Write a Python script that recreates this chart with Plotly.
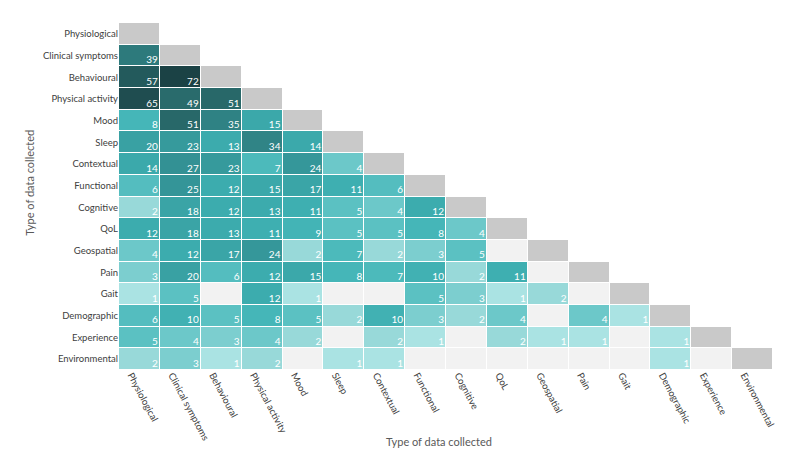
import plotly.graph_objects as go

categories = ["Physiological", "Clinical symptoms", "Behavioural", "Physical activity",
              "Mood", "Sleep", "Contextual", "Functional", "Cognitive", "QoL",
              "Geospatial", "Pain", "Gait", "Demographic", "Experience", "Environmental"]

# lower triangle, one list per row (0 = no studies)
physiological = []
clinical = [39]
behavioural = [57, 72]
physical = [65, 49, 51]
mood = [8, 51, 35, 15]
sleep = [20, 23, 13, 34, 14]
contextual = [14, 27, 23, 7, 24, 4]
functional = [6, 25, 12, 15, 17, 11, 6]
cognitive = [2, 18, 12, 13, 11, 5, 4, 12]
qol = [12, 18, 13, 11, 9, 5, 5, 8, 4]
geospatial = [4, 12, 17, 24, 2, 7, 2, 3, 5, 0]
pain = [3, 20, 6, 12, 15, 8, 7, 10, 2, 11, 0]
gait = [1, 5, 0, 12, 1, 0, 0, 5, 3, 1, 2, 0]
demographic = [6, 10, 5, 8, 5, 2, 10, 3, 2, 4, 0, 4, 1]
experience = [5, 4, 3, 4, 2, 0, 2, 1, 0, 2, 1, 1, 0, 1]
environmental = [2, 3, 1, 2, 0, 1, 1, 0, 0, 0, 0, 0, 0, 1, 0]

rows = [physiological, clinical, behavioural, physical, mood, sleep, contextual,
        functional, cognitive, qol, geospatial, pain, gait, demographic,
        experience, environmental]

n = len(categories)
idx = list(range(n))

z_val, z_empty, z_diag = [], [], []
tx, ty, tt = [], [], []
for i, r in enumerate(rows):
    zv, ze, zd = [], [], []
    for j in range(n):
        v = r[j] if j < len(r) else None
        if j < i and v:
            zv.append(v); ze.append(None); zd.append(None)
            tx.append(j + 0.45); ty.append(i + 0.47); tt.append(str(v))
        elif j < i:
            zv.append(None); ze.append(1); zd.append(None)
        elif j == i:
            zv.append(None); ze.append(None); zd.append(1)
        else:
            zv.append(None); ze.append(None); zd.append(None)
    z_val.append(zv); z_empty.append(ze); z_diag.append(zd)

stops = [(1, "#aae3e3"), (2, "#98d9d9"), (3, "#7ccecf"), (5, "#5bc1c2"),
         (8, "#45b6b8"), (12, "#3cacae"), (20, "#39a1a3"), (24, "#35979a"),
         (35, "#2f8284"), (39, "#2d7a7c"), (51, "#286869"), (57, "#235a5c"),
         (72, "#1b4245")]
zmin, zmax = 1, 72
cscale = [[(v - zmin) / (zmax - zmin), c] for v, c in stops]

fig = go.Figure()
fig.add_trace(go.Heatmap(x=idx, y=idx, z=z_empty, colorscale=[[0, "#f2f2f2"], [1, "#f2f2f2"]],
                         showscale=False, xgap=1, ygap=1, hoverinfo="skip"))
fig.add_trace(go.Heatmap(x=idx, y=idx, z=z_diag, colorscale=[[0, "#c9c9c9"], [1, "#c9c9c9"]],
                         showscale=False, xgap=1, ygap=1, hoverinfo="skip"))
fig.add_trace(go.Heatmap(x=idx, y=idx, z=z_val, colorscale=cscale, zmin=zmin, zmax=zmax,
                         showscale=False, xgap=1, ygap=1))
fig.add_trace(go.Scatter(x=tx, y=ty, text=tt, mode="text", textposition="top left",
                         textfont=dict(family="Lato", size=10, color="white"),
                         hoverinfo="skip", showlegend=False))

fig.update_layout(
    width=800, height=471,
    margin=dict(l=111, r=35, t=15, b=109),
    paper_bgcolor="white", plot_bgcolor="white",
    font=dict(family="Lato", size=9.5, color="#404040"),
    showlegend=False,
    xaxis=dict(tickvals=idx, ticktext=categories, tickangle=62, range=[-0.5, n - 0.5],
               showgrid=False, zeroline=False, ticks="", automargin=False,
               ticklabelshift=-8, ticklabelstandoff=-3),
    yaxis=dict(tickvals=idx, ticktext=categories, range=[n - 0.5, -0.5],
               showgrid=False, zeroline=False, ticks="", automargin=False),
    annotations=[
        dict(text="Type of data collected", xref="paper", yref="paper", x=0.49, y=-0.205,
             xanchor="center", yanchor="middle", showarrow=False,
             font=dict(size=11, color="#595959")),
        dict(text="Type of data collected", xref="paper", yref="paper", x=-0.136, y=0.54,
             xanchor="center", yanchor="middle", showarrow=False, textangle=-90,
             font=dict(size=11, color="#595959")),
    ],
)

fig.write_html("out.html")
